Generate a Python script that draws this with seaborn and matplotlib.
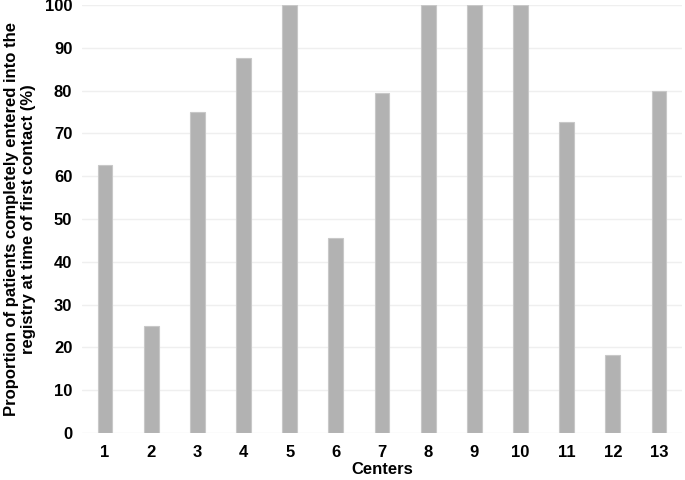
import matplotlib
matplotlib.use("Agg")
import matplotlib.pyplot as plt
import seaborn as sns
import pandas as pd

centers = [str(i) for i in range(1, 14)]
proportions = [62.5, 25.0, 75.0, 87.5, 100.0, 45.5, 79.4, 100.0, 100.0, 100.0, 72.7, 18.2, 80.0]
y_ticks = list(range(0, 101, 10))

sns.set_theme(style="white")
plt.rcParams['font.family'] = ['Liberation Sans', 'DejaVu Sans']
plt.rcParams['text.color'] = 'black'
plt.rcParams['axes.labelcolor'] = 'black'
plt.rcParams['xtick.color'] = 'black'
plt.rcParams['ytick.color'] = 'black'

df = pd.DataFrame({"Centers": centers, "Proportion": proportions})

fig = plt.figure(figsize=(6.85, 4.8), dpi=100)
ax = fig.add_axes([0.1197, 0.098, 0.876, 0.8916])

sns.barplot(data=df, x="Centers", y="Proportion", color="#b2b2b2", width=0.32,
            edgecolor="#c8c8c8", linewidth=0.8, saturation=1, ax=ax, zorder=3)

ax.set_ylim(0, 100)
ax.set_xlim(-0.5, 12.5)
ax.set_yticks(y_ticks)
ax.yaxis.grid(True, color="#efefef", linewidth=1, zorder=0)
ax.set_axisbelow(True)
for s in ax.spines.values():
    s.set_visible(False)
ax.tick_params(axis="both", length=0, labelsize=12, pad=7, colors="black")
ax.tick_params(axis="x", pad=9)
for lab in ax.get_xticklabels() + ax.get_yticklabels():
    lab.set_fontweight("bold")
ax.set_xlabel("Centers", fontsize=12, fontweight="bold", labelpad=1, color="black")
ax.set_ylabel("Proportion of patients completely entered into the\nregistry at time of first contact (%)",
              fontsize=12, fontweight="bold", labelpad=6, color="black")

fig.savefig("out.png", dpi=100)
